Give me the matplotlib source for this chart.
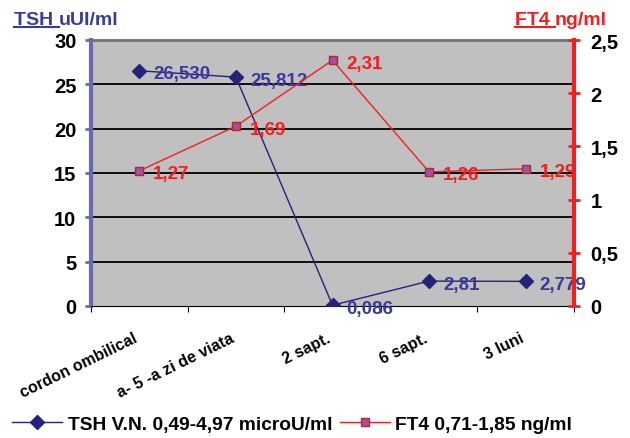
import matplotlib
matplotlib.use('Agg')
import matplotlib.pyplot as plt
from matplotlib.lines import Line2D

plt.rcParams['font.family'] = ['Liberation Sans', 'DejaVu Sans']
plt.rcParams['font.weight'] = 'bold'

# data
categories = ['cordon ombilical', 'a- 5 -a zi de viata', '2 sapt.', '6 sapt.', '3 luni']
tsh = [26.530, 25.812, 0.086, 2.81, 2.779]
tsh_labels = ['26,530', '25,812', '0,086', '2,81', '2,779']
ft4 = [1.27, 1.69, 2.31, 1.26, 1.29]
ft4_labels = ['1,27', '1,69', '2,31', '1,26', '1,29']
left_ticks = [0, 5, 10, 15, 20, 25, 30]
right_ticks = [0, 0.5, 1, 1.5, 2, 2.5]
right_tick_labels = ['0', '0,5', '1', '1,5', '2', '2,5']

NAVY = '#23237a'
NAVY_TXT = '#3a3a9c'
RED = '#f02020'
AXNAVY = '#6a6aa8'
SQFACE = '#b04c9c'
SQEDGE = '#a03030'

fig = plt.figure(figsize=(6.3, 4.39), dpi=100)
ax = fig.add_axes([91/630, 1-307/439, (574-91)/630, (307-41)/439])
ax.set_facecolor('#c0c0c0')
x = list(range(len(categories)))

#gridlines
for v in left_ticks[1:-1]:
    ax.axhline(v, color='black', lw=1.3, zorder=1)

ax.plot(x, tsh, color=NAVY, lw=1, marker='D', ms=7.5, mfc=NAVY, mec=NAVY, zorder=3)
for xi, v, lab in zip(x, tsh, tsh_labels):
    ax.annotate(lab, (xi, v), xytext=(14, -3), textcoords='offset pixels',
                ha='left', va='center', color=NAVY_TXT, fontsize=13.5, fontweight='bold', zorder=5)

ax.set_xlim(-0.5, 4.5)
ax.set_ylim(0, 30)
ax.set_yticks(left_ticks)
ax.set_yticklabels([str(t) for t in left_ticks], fontsize=14.5, fontweight='bold')
ax.set_xticks([i - 0.5 for i in range(6)])
ax.set_xticklabels([])
# category labels
for xi, lab in zip(x, categories):
    ax.annotate(lab, (xi, 0), xytext=(-6, -24), textcoords='offset pixels',
                ha='right', va='top', rotation=26, rotation_mode='anchor',
                fontsize=11.5, fontweight='bold', annotation_clip=False)
ax.tick_params(axis='x', length=4, color='black', direction='out')
ax.tick_params(axis='y', length=4, width=2, color=AXNAVY, direction='out', pad=6.5)
ax.spines['left'].set_color(AXNAVY)
ax.spines['left'].set_linewidth(3)
ax.spines['top'].set_color('#707070')
ax.spines['top'].set_linewidth(2)
ax.spines['bottom'].set_color('black')
ax.spines['right'].set_visible(False)

ax2 = ax.twinx()
ax2.plot(x, ft4, color=RED, lw=1, marker='s', ms=6, mfc=SQFACE, mec=SQEDGE, zorder=3)
for xi, v, lab in zip(x, ft4, ft4_labels):
    ax2.annotate(lab, (xi, v), xytext=(14, -3), textcoords='offset pixels',
                 ha='left', va='center', color=RED, fontsize=13.5, fontweight='bold')
ax2.set_ylim(0, 2.5)
ax2.set_yticks(right_ticks)
ax2.set_yticklabels(right_tick_labels, fontsize=14.5, fontweight='bold')
ax2.tick_params(axis='y', length=8, width=2, color=RED, direction='inout', pad=8)
ax2.spines['right'].set_color(RED)
ax2.spines['right'].set_linewidth(3)
for s in ['left', 'top', 'bottom']:
    ax2.spines[s].set_visible(False)

# axis titles with underlined part
fig.canvas.draw()
r = fig.canvas.get_renderer()

def title(x0, y0, first, rest, color):
    t1 = fig.text(x0/630, 1-y0/439, first, color=color, fontsize=14, fontweight='bold', va='baseline')
    bb = t1.get_window_extent(r)
    fig.text(bb.x1/630, 1-y0/439, rest, color=color, fontsize=14, fontweight='bold', va='baseline')
    fig.add_artist(Line2D([bb.x0/630, bb.x1/630], [1-(y0+3)/439]*2, color=color, lw=1.5))

title(14, 25, 'TSH ', 'uUI/ml', NAVY_TXT)
title(515, 25, 'FT4 ', 'ng/ml', RED)

# legend
h1 = Line2D([], [], color=NAVY, lw=1, marker='D', ms=7.5, mfc=NAVY, mec=NAVY)
h2 = Line2D([], [], color=RED, lw=1, marker='s', ms=6, mfc=SQFACE, mec=SQEDGE)
fig.legend([h1, h2], ['TSH V.N. 0,49-4,97 microU/ml', 'FT4 0,71-1,85 ng/ml'],
           loc='center left', bbox_to_anchor=(12/630, 1-425/439), ncol=2, frameon=False,
           prop={'size': 13.8, 'weight': 'bold'}, handlelength=2.6, handletextpad=0.3,
           columnspacing=0.4, borderaxespad=0, borderpad=0)

fig.savefig('out.png', dpi=100)
